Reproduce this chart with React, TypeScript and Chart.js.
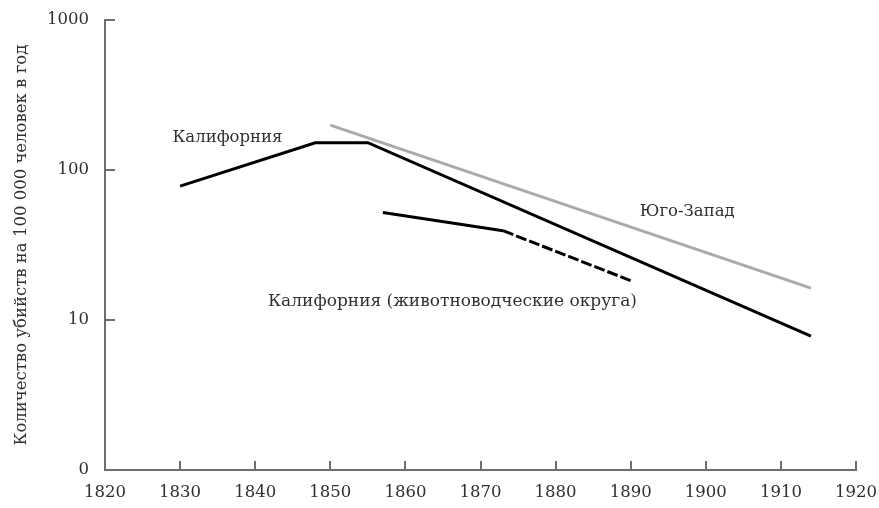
import React, { useEffect, useRef } from "react";
import { Chart, registerables } from "chart.js";

Chart.register(...registerables);

const californiaX = [1830, 1848, 1855, 1914];
const californiaY = [78, 152, 152, 7.8];
const southwestX = [1850, 1914];
const southwestY = [199, 16.3];
const livestockX = [1857, 1873, 1890];
const livestockY = [52, 39.4, 18.3];

const yTickValues = [1, 10, 100, 1000];
const yTickLabels = ["0", "10", "100", "1000"];

const labelTexts = ["Калифорния", "Юго-Запад", "Калифорния (животноводческие округа)"];
const labelX = [1829, 1891.2, 1841.7];
const labelY = [163, 52.5, 13.2];

const FONT = "'DejaVu Serif', serif";
const FS = 16.5;
const AXIS = "#6e6e6e";
const TEXT = "#303030";

const toPts = (xs: number[], ys: number[]) => xs.map((x, i) => ({ x, y: ys[i] }));

const decorPlugin = {
  id: "decor",
  afterDraw(chart: any) {
    const ctx = chart.ctx;
    const xs = chart.scales.x;
    const ys = chart.scales.y;
    ctx.save();
    ctx.strokeStyle = AXIS;
    ctx.lineWidth = 2;
    xs.ticks.forEach((t: any) => {
      if (t.value === xs.min) return;
      const px = Math.round(xs.getPixelForValue(t.value));
      ctx.beginPath();
      ctx.moveTo(px, ys.bottom);
      ctx.lineTo(px, ys.bottom - 9);
      ctx.stroke();
    });
    ys.ticks.forEach((t: any) => {
      if (t.value === ys.min) return;
      const py = Math.round(ys.getPixelForValue(t.value));
      ctx.beginPath();
      ctx.moveTo(xs.left, py);
      ctx.lineTo(xs.left + 10, py);
      ctx.stroke();
    });
    ctx.fillStyle = TEXT;
    ctx.textAlign = "left";
    ctx.textBaseline = "middle";
    labelTexts.forEach((txt, i) => {
      ctx.font = `${i === 2 ? 17 : FS}px ${FONT}`;
      ctx.fillText(txt, xs.getPixelForValue(labelX[i]), ys.getPixelForValue(labelY[i]));
    });
    ctx.restore();
  },
};

export default function App() {
  const ref = useRef<HTMLCanvasElement>(null);
  useEffect(() => {
    document.body.style.margin = "0";
    const chart = new Chart(ref.current!, {
      type: "line",
      data: {
        datasets: [
          {
            data: toPts(californiaX, californiaY),
            borderColor: "#000",
            borderWidth: 3,
            pointRadius: 0,
            tension: 0,
          },
          {
            data: toPts(southwestX, southwestY),
            borderColor: "#aaaaaa",
            borderWidth: 3,
            pointRadius: 0,
            tension: 0,
          },
          {
            data: toPts(livestockX, livestockY),
            borderColor: "#000",
            borderWidth: 3,
            pointRadius: 0,
            tension: 0,
            segment: {
              borderDash: (c: any) => (c.p0DataIndex >= 1 ? [11, 3] : undefined),
            },
          },
        ],
      },
      plugins: [decorPlugin],
      options: {
        animation: false,
        responsive: false,
        maintainAspectRatio: false,
        layout: { padding: { top: 20, right: 23, left: 0, bottom: 0 } },
        plugins: { legend: { display: false }, tooltip: { enabled: false } },
        scales: {
          x: {
            type: "linear",
            min: 1820,
            max: 1920,
            ticks: { stepSize: 10, color: TEXT, font: { family: FONT, size: FS }, padding: 13, callback: (v: any) => String(v) },
            grid: { display: true, drawOnChartArea: false, drawTicks: false },
            border: { display: true, color: AXIS, width: 2 },
            afterFit: (s: any) => { s.height = 38; s.paddingLeft = 0; s.paddingRight = 0; },
          },
          y: {
            type: "logarithmic",
            min: 1,
            max: 1000,
            afterBuildTicks: (s: any) => { s.ticks = yTickValues.map((v) => ({ value: v })); },
            ticks: {
              color: TEXT,
              font: { family: FONT, size: FS },
              padding: 16,
              callback: (v: any) => yTickLabels[yTickValues.indexOf(Number(v))] ?? "",
            },
            grid: { display: true, drawOnChartArea: false, drawTicks: false },
            border: { display: true, color: AXIS, width: 2 },
            title: {
              display: true,
              text: "Количество убийств на 100 000 человек в год",
              color: TEXT,
              font: { family: FONT, size: FS },
              padding: { top: 12, bottom: 0 },
            },
            afterFit: (s: any) => { s.width = 105; s.paddingTop = 0; s.paddingBottom = 0; },
          },
        },
      },
    });
    return () => chart.destroy();
  }, []);
  return (
    <div style={{ width: 879, height: 508 }}>
      <canvas ref={ref} width={879} height={508} style={{ width: 879, height: 508, display: "block" }} />
    </div>
  );
}
